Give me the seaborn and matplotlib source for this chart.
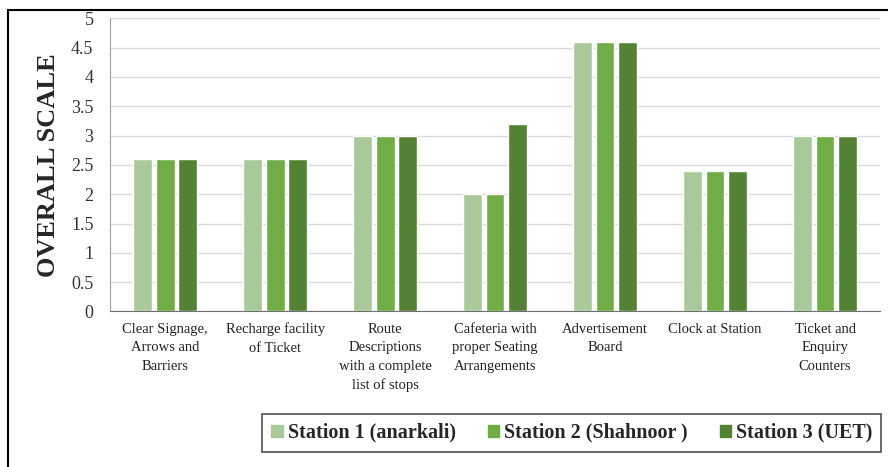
import pandas as pd
import matplotlib.pyplot as plt
import matplotlib.patches as mpatches
import seaborn as sns

categories = [
    "Clear Signage,\nArrows and\nBarriers",
    "Recharge facility\nof Ticket",
    "Route\nDescriptions\nwith a complete\nlist of stops",
    "Cafeteria with\nproper Seating\nArrangements",
    "Advertisement\nBoard",
    "Clock at Station",
    "Ticket and\nEnquiry\nCounters",
]
stations = ["Station 1 (anarkali)", "Station 2 (Shahnoor )", "Station 3 (UET)"]
station1 = [2.6, 2.6, 3.0, 2.0, 4.6, 2.4, 3.0]
station2 = [2.6, 2.6, 3.0, 2.0, 4.6, 2.4, 3.0]
station3 = [2.6, 2.6, 3.0, 3.2, 4.6, 2.4, 3.0]
colors = ["#a9c99a", "#70ad47", "#548235"]

rows = []
for name, vals in zip(stations, [station1, station2, station3]):
    for cat, v in zip(categories, vals):
        rows.append({"Category": cat, "Station": name, "Score": v})
df = pd.DataFrame(rows)

sns.set_style("white")
plt.rcParams['font.family'] = ['Liberation Serif', 'DejaVu Serif']

fig = plt.figure(figsize=(8.88, 4.67), dpi=100)
ax = fig.add_axes([0.124, 0.333, 0.867, 0.628])

sns.barplot(data=df, x="Category", y="Score", hue="Station", palette=colors,
            width=0.62, gap=0.17, ax=ax, legend=False, saturation=1)

ax.set_ylim(0, 5)
ax.set_yticks([0, 0.5, 1, 1.5, 2, 2.5, 3, 3.5, 4, 4.5, 5])
ax.set_yticklabels(["0", "0.5", "1", "1.5", "2", "2.5", "3", "3.5", "4", "4.5", "5"])
ax.yaxis.grid(True, color="#d9d9d9", linewidth=1)
ax.set_axisbelow(True)
ax.tick_params(axis="y", length=0, pad=12, labelsize=13, colors="#333333")
ax.tick_params(axis="x", length=0, pad=8, labelsize=10.5, colors="#222222")
for lbl in ax.get_xticklabels():
    lbl.set_linespacing(1.55)
ax.set_xlabel("")
ax.set_ylabel("OVERALL SCALE", fontsize=19, fontweight="bold", labelpad=8)
for s in ["top", "right"]:
    ax.spines[s].set_visible(False)
ax.spines["left"].set_color("#a0a0a0")
ax.spines["bottom"].set_color("#707070")

handles = [mpatches.Patch(color=c, label=s) for c, s in zip(colors, stations)]
leg = fig.legend(handles=handles, loc="center", bbox_to_anchor=(0.644, 0.073),
                 ncol=3, frameon=True, fancybox=False, handlelength=0.55,
                 handleheight=0.55, handletextpad=0.25, columnspacing=1.6,
                 prop={"weight": "bold", "size": 14.5}, borderpad=0.45)
leg.get_frame().set_edgecolor("#222222")
leg.get_frame().set_linewidth(1.2)

border = mpatches.Rectangle((0.009, -0.01), 1.0, 0.989, transform=fig.transFigure,
                            fill=False, edgecolor="black", linewidth=1.5)
fig.patches.append(border)

fig.savefig("out.png", dpi=100)
